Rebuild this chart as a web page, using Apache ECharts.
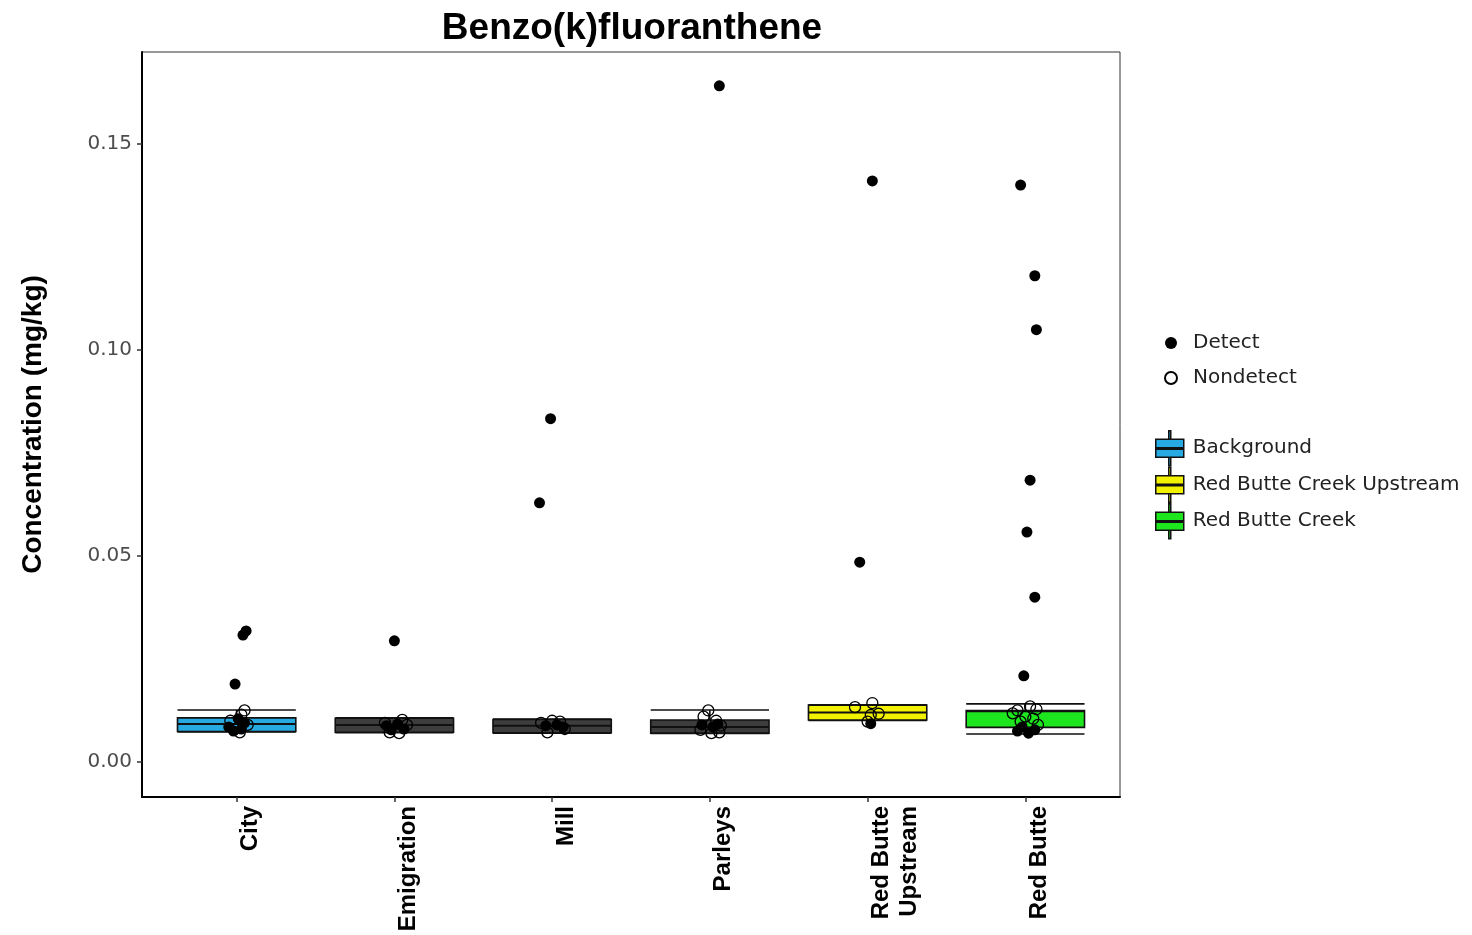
<!DOCTYPE html>
<html>
<head>
<meta charset="utf-8">
<script src="https://cdn.jsdelivr.net/npm/echarts@6/dist/echarts.min.js"></script>
<style>
html,body{margin:0;padding:0;background:#fff;}
#chart{width:1472px;height:935px;}
</style>
</head>
<body>
<div id="chart"></div>
<script>
// ---- data ----
const categories = ['City', 'Emigration', 'Mill', 'Parleys', 'Red Butte\nUpstream', 'Red Butte'];
const yTicks = [0, 0.05, 0.10, 0.15];

// box stats: [categoryIndex, min, q1, median, q3, max]
const boxBackground = [
  [0, 0.0073, 0.0074, 0.0092, 0.0107, 0.0126],
  [1, 0.0071, 0.0072, 0.0090, 0.0106, 0.0107],
  [2, 0.0070, 0.0071, 0.0088, 0.0103, 0.0104],
  [3, 0.0069, 0.0070, 0.0085, 0.0102, 0.0126]
];
const boxUpstream = [
  [4, 0.0101, 0.0102, 0.0120, 0.0138, 0.0139]
];
const boxRedButte = [
  [5, 0.0068, 0.0084, 0.0123, 0.0125, 0.0141]
];

// points: [categoryIndex, jitter (category units), value]
const detectPoints = [
  [0, 0.06, 0.0318], [0, 0.04, 0.0308], [0, -0.01, 0.0189],
  [0, -0.05, 0.0085], [0, 0.03, 0.0080], [0, 0.05, 0.0095], [0, -0.02, 0.0075], [0, 0.01, 0.0105],
  [1, 0.00, 0.0294], [1, -0.05, 0.0088], [1, 0.02, 0.0092], [1, 0.06, 0.0080], [1, -0.02, 0.0078],
  [2, -0.01, 0.0833], [2, -0.08, 0.0629], [2, -0.04, 0.0088], [2, 0.03, 0.0090], [2, 0.07, 0.0085],
  [3, 0.06, 0.1641], [3, -0.05, 0.0090], [3, 0.02, 0.0085], [3, 0.05, 0.0092],
  [4, 0.03, 0.1410], [4, -0.05, 0.0485], [4, 0.02, 0.0093],
  [5, -0.03, 0.1400], [5, 0.06, 0.1180], [5, 0.07, 0.1049], [5, 0.03, 0.0684], [5, 0.01, 0.0558],
  [5, 0.06, 0.0400], [5, -0.01, 0.0209], [5, -0.05, 0.0075], [5, 0.02, 0.0070], [5, 0.06, 0.0078], [5, -0.02, 0.0085]
];
const nondetectPoints = [
  [0, 0.05, 0.0125], [0, 0.03, 0.0115], [0, -0.04, 0.0100], [0, 0.07, 0.0090], [0, -0.01, 0.0080], [0, 0.02, 0.0072],
  [1, 0.05, 0.0102], [1, -0.06, 0.0095], [1, 0.08, 0.0090], [1, -0.03, 0.0072], [1, 0.03, 0.0070],
  [2, -0.07, 0.0095], [2, 0.05, 0.0098], [2, -0.03, 0.0072], [2, 0.08, 0.0080], [2, 0.00, 0.0100],
  [3, -0.01, 0.0125], [3, -0.04, 0.0110], [3, 0.04, 0.0100], [3, 0.07, 0.0088], [3, -0.06, 0.0078], [3, 0.01, 0.0070], [3, 0.06, 0.0072],
  [4, -0.08, 0.0133], [4, 0.03, 0.0143], [4, 0.02, 0.0114], [4, 0.07, 0.0117], [4, 0.00, 0.0098],
  [5, -0.05, 0.0125], [5, 0.03, 0.0135], [5, 0.07, 0.0128], [5, -0.08, 0.0118], [5, 0.00, 0.0110],
  [5, 0.05, 0.0105], [5, -0.03, 0.0098], [5, 0.08, 0.0090]
];

// ---- colours ----
const colBackground = '#27aae1';
const colBackgroundDark = '#3d3d3d';
const colUpstream = '#f2f200';
const colRedButte = '#1ee61e';

const FONT = '"Liberation Sans", Arial, sans-serif';
const WIDE = '"DejaVu Sans", sans-serif';
const boxIcon = 'path://M14,0 L16,0 L16,8.5 L14,8.5 Z M1,8.5 L29,8.5 L29,26.5 L1,26.5 Z M1,17 L29,17 L29,18.5 L1,18.5 Z M14,26.5 L16,26.5 L16,35 L14,35 Z';

function renderBox(params, api) {
  const x = api.value(0);
  const w = api.size([0.75, 0])[0];
  const pMin = api.coord([x, api.value(1)]);
  const pQ1 = api.coord([x, api.value(2)]);
  const pMed = api.coord([x, api.value(3)]);
  const pQ3 = api.coord([x, api.value(4)]);
  const pMax = api.coord([x, api.value(5)]);
  const cx = pMin[0];
  const x0 = cx - w / 2, x1 = cx + w / 2;
  const ls = { stroke: '#111', lineWidth: 1.6 };
  return {
    type: 'group',
    children: [
      { type: 'line', shape: { x1: cx, y1: pMax[1], x2: cx, y2: pQ3[1] }, style: ls },
      { type: 'line', shape: { x1: cx, y1: pQ1[1], x2: cx, y2: pMin[1] }, style: ls },
      { type: 'line', shape: { x1: x0, y1: pMax[1], x2: x1, y2: pMax[1] }, style: ls },
      { type: 'line', shape: { x1: x0, y1: pMin[1], x2: x1, y2: pMin[1] }, style: ls },
      { type: 'rect', shape: { x: x0, y: pQ3[1], width: w, height: pQ1[1] - pQ3[1] },
        style: { fill: api.visual('color'), stroke: '#111', lineWidth: 1.6 } },
      { type: 'line', shape: { x1: x0, y1: pMed[1], x2: x1, y2: pMed[1] }, style: { stroke: '#111', lineWidth: 2 } }
    ]
  };
}

function jitterData(arr) {
  return arr.map(d => [d[0] + d[1], d[2]]);
}

const chart = echarts.init(document.getElementById('chart'), null, { renderer: 'canvas' });
chart.setOption({
  animation: false,
  backgroundColor: '#fff',
  textStyle: { fontFamily: FONT },
  title: {
    text: 'Benzo(k)fluoranthene',
    left: 632, top: 10, textAlign: 'center', padding: 0,
    textStyle: { fontSize: 37, fontWeight: 'bold', color: '#000', fontFamily: FONT }
  },
  legend: [
    {
      orient: 'vertical', left: 1159, top: 327, itemGap: 13,
      itemWidth: 12, itemHeight: 12,
      data: [{ name: 'Detect' }, { name: 'Nondetect' }],
      textStyle: { fontSize: 20, lineHeight: 22, color: '#222', fontFamily: WIDE, padding: [0, 0, 0, 11] }
    },
    {
      orient: 'vertical', left: 1150, top: 425, itemGap: 0,
      itemWidth: 30, itemHeight: 35,
      itemStyle: { borderColor: '#111', borderWidth: 1.5 },
      data: [
        { name: 'Background', icon: boxIcon },
        { name: 'Red Butte Creek Upstream', icon: boxIcon },
        { name: 'Red Butte Creek', icon: boxIcon }
      ],
      textStyle: { fontSize: 20, color: '#222', fontFamily: WIDE, padding: [0, 0, 0, 3] }
    }
  ],
  grid: {
    left: 142, right: 352, top: 52, bottom: 138,
    show: true, borderColor: '#333', borderWidth: 1, backgroundColor: '#fff'
  },
  xAxis: {
    type: 'value', min: -0.6, max: 5.6,
    splitLine: { show: false },
    axisLine: { onZero: false, lineStyle: { color: '#000', width: 2 } },
    axisTick: { show: true, length: 5, customValues: [0, 1, 2, 3, 4, 5], lineStyle: { color: '#333', width: 1.5 } },
    axisLabel: {
      customValues: [0, 1, 2, 3, 4, 5],
      rotate: 90, margin: 9,
      verticalAlign: 'top',
      fontSize: 24, fontWeight: 'bold', color: '#000', fontFamily: FONT, lineHeight: 28,
      formatter: v => categories[Math.round(v)]
    }
  },
  yAxis: {
    type: 'value', min: -0.0085, max: 0.1723,
    name: 'Concentration (mg/kg)', nameLocation: 'middle', nameGap: 95,
    nameTextStyle: { fontSize: 28, fontWeight: 'bold', color: '#000', fontFamily: FONT },
    splitLine: { show: false },
    axisLine: { onZero: false, lineStyle: { color: '#000', width: 2 } },
    axisTick: { show: true, length: 5, customValues: yTicks, lineStyle: { color: '#333', width: 1.5 } },
    axisLabel: {
      customValues: yTicks, margin: 10,
      fontSize: 20, color: '#4d4d4d', fontFamily: WIDE,
      formatter: v => v.toFixed(2)
    }
  },
  series: [
    {
      name: 'Background', type: 'custom', renderItem: renderBox, z: 2,
      itemStyle: { color: colBackground },
      encode: { x: 0, y: [1, 2, 3, 4, 5] },
      data: boxBackground.map((d, i) => i === 0 ? d : { value: d, itemStyle: { color: colBackgroundDark } })
    },
    {
      name: 'Red Butte Creek Upstream', type: 'custom', renderItem: renderBox, z: 2,
      itemStyle: { color: colUpstream },
      encode: { x: 0, y: [1, 2, 3, 4, 5] },
      data: boxUpstream
    },
    {
      name: 'Red Butte Creek', type: 'custom', renderItem: renderBox, z: 2,
      itemStyle: { color: colRedButte },
      encode: { x: 0, y: [1, 2, 3, 4, 5] },
      data: boxRedButte
    },
    {
      name: 'Detect', type: 'scatter', z: 4,
      symbol: 'circle', symbolSize: 11,
      itemStyle: { color: '#000', opacity: 1 },
      data: jitterData(detectPoints)
    },
    {
      name: 'Nondetect', type: 'scatter', z: 5,
      symbol: 'circle', symbolSize: 11,
      itemStyle: { color: 'rgba(255,255,255,0)', borderColor: '#000', borderWidth: 1.3, opacity: 1 },
      data: jitterData(nondetectPoints)
    }
  ]
});
</script>
</body>
</html>
